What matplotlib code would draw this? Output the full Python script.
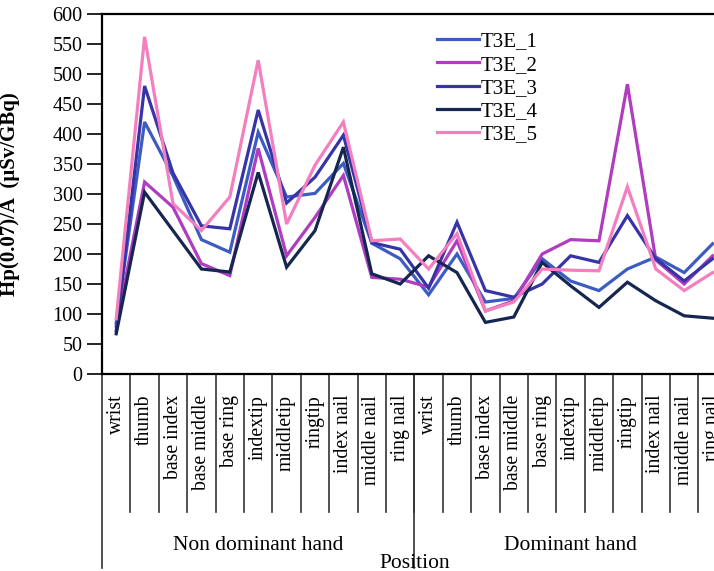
import numpy as np
import matplotlib
matplotlib.use('Agg')
from matplotlib import pyplot as plt
from matplotlib.transforms import blended_transform_factory

plt.rcParams['font.family'] = ['Liberation Serif', 'DejaVu Serif']

positions = ['wrist', 'thumb', 'base index', 'base middle', 'base ring',
             'indextip', 'middletip', 'ringtip', 'index nail', 'middle nail',
             'ring nail']
categories = positions + positions
groups = ['Non dominant hand', 'Dominant hand']

t3e_1 = [85, 420, 330, 224, 203, 403, 295, 301, 351, 218, 192,
         132, 200, 120, 126, 192, 155, 139, 175, 195, 169, 217]
t3e_2 = [80, 320, 278, 184, 164, 376, 197, 261, 331, 161, 158,
         145, 222, 105, 122, 200, 224, 222, 483, 190, 150, 197]
t3e_3 = [72, 480, 335, 247, 242, 440, 285, 328, 398, 219, 208,
         143, 253, 139, 128, 150, 197, 186, 264, 192, 155, 192]
t3e_4 = [67, 303, 239, 175, 170, 336, 178, 239, 378, 167, 150,
         197, 169, 86, 95, 186, 147, 111, 153, 122, 97, 93]
t3e_5 = [92, 562, 284, 239, 295, 523, 250, 348, 420, 222, 225,
         175, 234, 105, 120, 175, 173, 172, 312, 175, 139, 169]

series = [('T3E_1', t3e_1, '#3d5cc2'),
          ('T3E_2', t3e_2, '#b03cbf'),
          ('T3E_3', t3e_3, '#3634a6'),
          ('T3E_4', t3e_4, '#152650'),
          ('T3E_5', t3e_5, '#f47fbf')]

W, H = 714, 571
fig = plt.figure(figsize=(W / 100, H / 100), dpi=100)
ax = fig.add_axes([102 / W, 1 - 374 / H, 624.8 / W, 360 / H])

x = np.arange(len(categories))
for name, vals, col in series:
    ax.plot(x, vals, color=col, lw=2.3, label=name, solid_joinstyle='miter')

ax.set_xlim(-0.5, len(categories) - 0.5)
ax.set_ylim(0, 600)
ax.set_yticks(np.arange(0, 601, 50))
ax.tick_params(axis='y', direction='out', length=11, width=1.2, pad=3, labelsize=14.5)
ax.set_xticks(x)
ax.set_xticklabels(categories, rotation=90, va='top', fontsize=14.2)
ax.tick_params(axis='x', length=0, pad=15)
for s in ax.spines.values():
    s.set_linewidth(1.6)

ax.set_ylabel('Hp(0.07)/A  (µSv/GBq)', fontsize=15, fontweight='bold')
ax.yaxis.set_label_coords(-82 / 624.8, 0.5)

# category box lines under the axis
tr = blended_transform_factory(ax.transData, ax.transAxes)
for b in np.arange(1, len(categories) + 1) - 0.5:
    ax.plot([b, b], [0, -0.383], color='#333333', lw=1.2, transform=tr, clip_on=False)
for b in [-0.5, len(positions) - 0.5]:
    ax.plot([b, b], [0, -0.54], color='#333333', lw=1.2, transform=tr, clip_on=False)

n = len(positions)
ax.text((n - 1) / 2, -0.475, groups[0], transform=tr, ha='center', va='center', fontsize=15.5)
ax.text(n + (n - 1) / 2, -0.475, groups[1], transform=tr, ha='center', va='center', fontsize=15.5)
ax.text(n - 0.5, -0.525, 'Position', transform=tr, ha='center', va='center', fontsize=15.5)

ax.legend(loc='upper left', bbox_to_anchor=(437 / W, 1 - 32 / H), bbox_transform=fig.transFigure,
          frameon=False, fontsize=15, handlelength=2.0, handletextpad=0.1,
          labelspacing=0.17, borderpad=0, borderaxespad=0)

fig.savefig('out.png', dpi=100)
